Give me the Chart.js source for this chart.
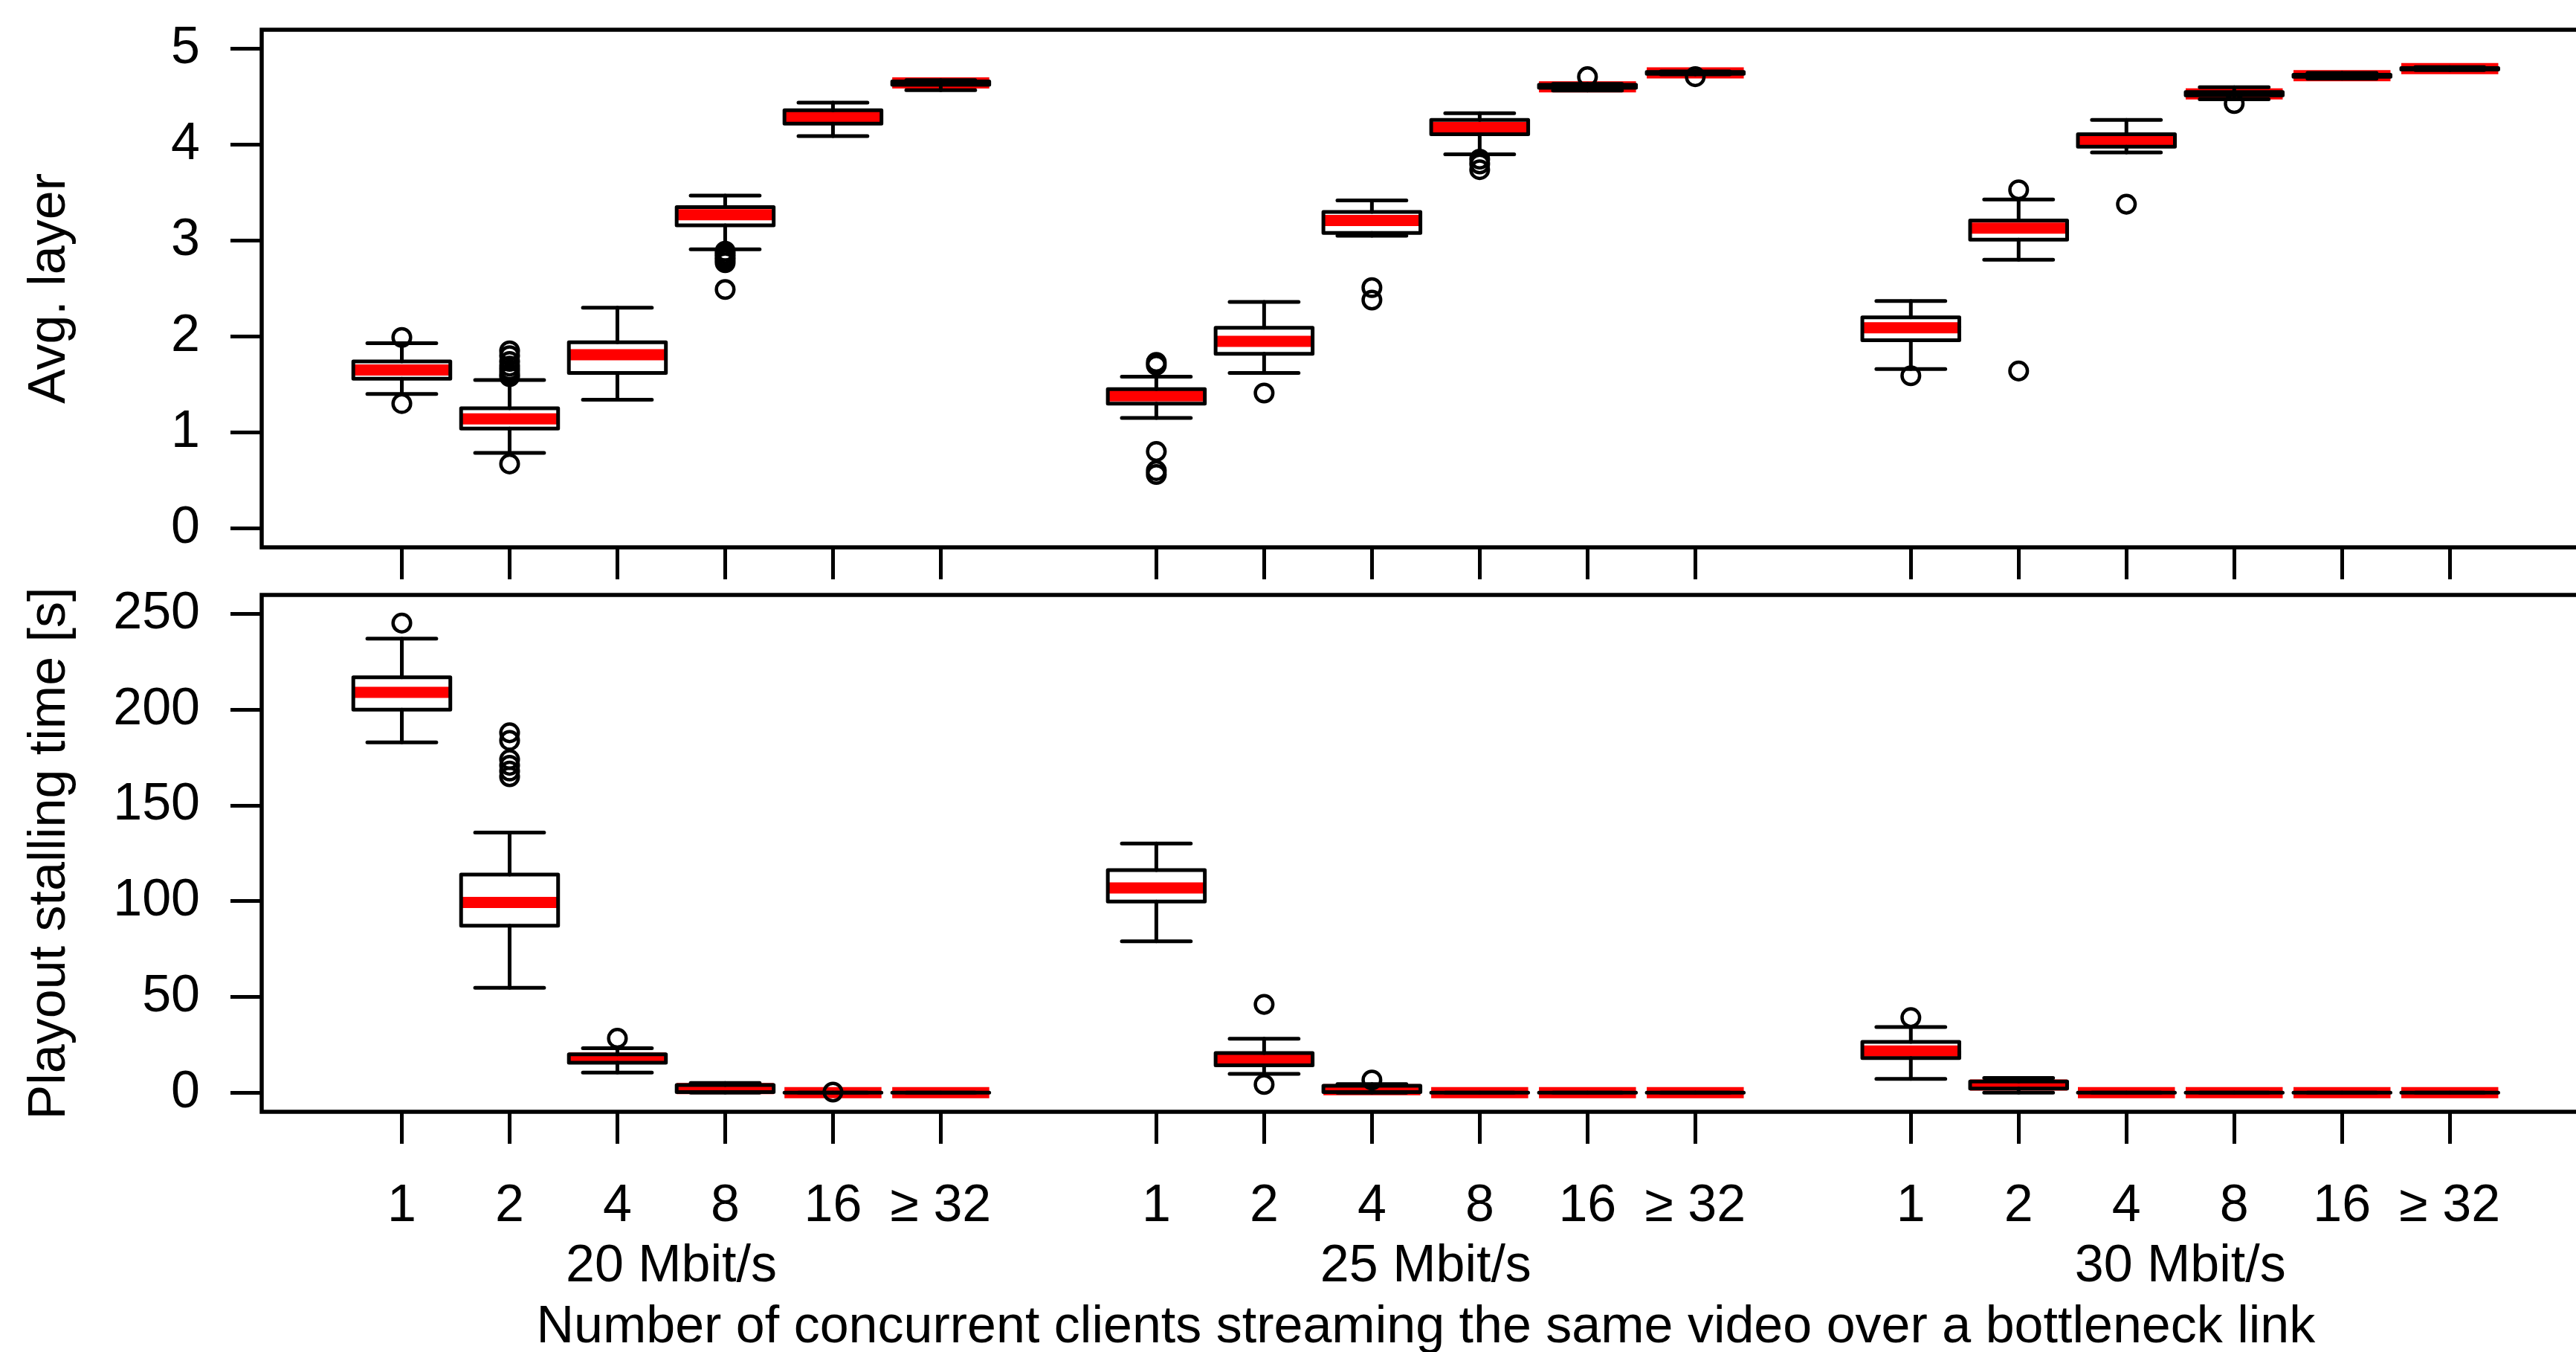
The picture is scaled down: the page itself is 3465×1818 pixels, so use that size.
<!DOCTYPE html>
<html><head><meta charset="utf-8">
<script src="https://cdn.jsdelivr.net/npm/chart.js@4/dist/chart.umd.min.js"></script>
<style>
html,body{margin:0;padding:0;background:#fff;width:3465px;height:1818px;overflow:hidden;position:relative}
canvas{position:absolute;left:0}
#c1{top:0}
#c2{top:760px}
</style></head><body>
<canvas id="c1" width="3500" height="780"></canvas>
<canvas id="c2" width="3500" height="1070"></canvas>
<script>
// ---------------- data ----------------
const categories = ['1', '2', '4', '8', '16', '\u2265 32'];
const groups = ['20 Mbit/s', '25 Mbit/s', '30 Mbit/s'];
const xTitle = 'Number of concurrent clients streaming the same video over a bottleneck link';
const layerTitle = 'Avg. layer';
const stallTitle = 'Playout stalling time [s]';
const layerTicks = [0, 1, 2, 3, 4, 5];
const stallTicks = [0, 50, 100, 150, 200, 250];

// Avg. layer boxes (20, 25, 30 Mbit/s; clients 1,2,4,8,16,>=32)
const layerLow    = [1.40, 0.785, 1.34, 2.91, 4.09, 4.57,   1.15, 1.62, 3.05, 3.90, 4.565, 4.735,  1.66, 2.80, 3.92, 4.475, 4.69, 4.78];
const layerQ1     = [1.56, 1.04, 1.62, 3.16, 4.22, 4.625,   1.30, 1.82, 3.08, 4.11, 4.595, 4.74,   1.96, 3.01, 3.98, 4.515, 4.71, 4.785];
const layerMedian = [1.65, 1.14, 1.81, 3.27, 4.29, 4.645,   1.38, 1.95, 3.21, 4.18, 4.605, 4.75,   2.09, 3.13, 4.05, 4.53, 4.72, 4.795];
const layerQ3     = [1.74, 1.25, 1.94, 3.35, 4.36, 4.66,    1.45, 2.09, 3.30, 4.26, 4.625, 4.76,   2.20, 3.21, 4.11, 4.55, 4.73, 4.80];
const layerHigh   = [1.93, 1.545, 2.30, 3.47, 4.44, 4.675,  1.58, 2.36, 3.42, 4.33, 4.635, 4.765,  2.37, 3.43, 4.26, 4.60, 4.75, 4.81];
const layerOutliers = [
  [1.99, 1.30], [1.85, 1.80, 1.74, 1.69, 1.65, 1.61, 1.58, 0.67], [], [2.89, 2.86, 2.83, 2.80, 2.77, 2.49], [], [],
  [1.73, 1.70, 0.80, 0.60, 0.56], [1.41], [2.51, 2.38], [3.85, 3.80, 3.74], [4.71], [4.71],
  [1.59], [3.53, 1.64], [3.38], [4.43], [], []
];

// Playout stalling time boxes
const stallLow    = [183.0, 54.8, 10.5, 0, 0, 0,    79.1, 9.8, 0, 0, 0, 0,    7.2, 0, 0, 0, 0, 0];
const stallQ1     = [200.1, 87.2, 15.6, 0.3, 0, 0,  99.8, 14.3, 0.3, 0, 0, 0,  18.1, 2.1, 0, 0, 0, 0];
const stallMedian = [209.1, 99.4, 18.1, 2.1, 0, 0,  106.9, 17.5, 1.6, 0, 0, 0, 21.8, 4.0, 0, 0, 0, 0];
const stallQ3     = [217.0, 113.9, 20.0, 4.0, 0, 0, 116.3, 20.7, 3.6, 0, 0, 0, 26.5, 5.8, 0, 0, 0, 0];
const stallHigh   = [237.2, 135.9, 23.2, 5.1, 0, 0, 130.1, 28.2, 4.5, 0, 0, 0, 34.3, 7.7, 0, 0, 0, 0];
const stallOutliers = [
  [245.3], [188, 184, 174, 171, 168, 165], [28.4], [], [0.3], [],
  [], [46.1, 4.3], [6.6], [], [], [],
  [39.2], [], [], [], [], []
];

// ---------------- layout helpers ----------------
const BOX_HALF = 0.45, STAPLE_HALF = 0.32;
const nCat = categories.length;
const xPos = i => Math.floor(i / nCat) * (nCat + 1) + (i % nCat) + 1;
const tickPositions = Array.from({length: groups.length * nCat}, (_, i) => xPos(i));
const groupCenters = groups.map((_, g) => g * (nCat + 1) + (nCat + 1) / 2);
const X_MIN = -0.3, X_MAX = groups.length * (nCat + 1) + 0.3;

Chart.defaults.font.family = "'Liberation Sans', Arial, Helvetica, sans-serif";
Chart.defaults.font.size = 70;
Chart.defaults.color = '#000';

function boxDatasets(low, q1, med, q3, high, outliers) {
  const median = [], box = [], whisk = [], staple = [], out = [];
  low.forEach((_, i) => {
    const x = xPos(i);
    const gap = {x: x, y: null};
    median.push({x: x - BOX_HALF, y: med[i]}, {x: x + BOX_HALF, y: med[i]}, gap);
    box.push({x: x - BOX_HALF, y: q1[i]}, {x: x + BOX_HALF, y: q1[i]}, {x: x + BOX_HALF, y: q3[i]},
             {x: x - BOX_HALF, y: q3[i]}, {x: x - BOX_HALF, y: q1[i]}, gap);
    whisk.push({x: x, y: q3[i]}, {x: x, y: high[i]}, gap, {x: x, y: q1[i]}, {x: x, y: low[i]}, gap);
    staple.push({x: x - STAPLE_HALF, y: high[i]}, {x: x + STAPLE_HALF, y: high[i]}, gap,
                {x: x - STAPLE_HALF, y: low[i]}, {x: x + STAPLE_HALF, y: low[i]}, gap);
    outliers[i].forEach(v => out.push({x: x, y: v}));
  });
  const line = {showLine: true, spanGaps: false, pointRadius: 0, tension: 0, borderColor: '#000', fill: false};
  return [
    Object.assign({}, line, {label: 'median', data: median, borderColor: '#ff0000', borderWidth: 15, borderCapStyle: 'butt', order: 5}),
    Object.assign({}, line, {label: 'box', data: box, borderWidth: 5, borderCapStyle: 'round', borderJoinStyle: 'round', order: 4}),
    Object.assign({}, line, {label: 'whisker', data: whisk, borderWidth: 5, borderCapStyle: 'round', order: 3}),
    Object.assign({}, line, {label: 'staple', data: staple, borderWidth: 5, borderCapStyle: 'round', order: 2}),
    {label: 'outliers', data: out, showLine: false, pointStyle: 'circle', pointRadius: 11.8, pointBorderWidth: 4.5,
     pointBorderColor: '#000', pointBackgroundColor: 'rgba(0,0,0,0)', order: 1}
  ];
}

const framePlugin = {
  id: 'frame',
  afterDatasetsDraw(chart) {
    const {ctx, chartArea: a} = chart;
    ctx.save();
    ctx.strokeStyle = '#000';
    ctx.lineWidth = 5.5;
    ctx.strokeRect(a.left, a.top, a.right - a.left, a.bottom - a.top);
    ctx.restore();
  }
};

const tickGrid = len => ({display: true, drawOnChartArea: false, drawTicks: true, tickLength: len, color: '#000', lineWidth: 5});

function yScale(min, max, ticks, title) {
  return {
    type: 'linear', position: 'left', min: min, max: max,
    afterBuildTicks: s => { s.ticks = ticks.map(v => ({value: v})); },
    afterFit: s => { s.width = 352; s.paddingTop = 0; s.paddingBottom = 0; },
    ticks: {padding: 41, font: {size: 70, lineHeight: 1}, callback: v => String(v)},
    grid: tickGrid(42),
    border: {display: false},
    title: {display: true, text: title, font: {size: 70}, padding: {top: 26, bottom: 0}}
  };
}

const common = {
  type: 'scatter',
  plugins: [framePlugin],
};
const baseOptions = {
  responsive: false, animation: false, devicePixelRatio: 1, events: [],
  plugins: {legend: {display: false}, tooltip: {enabled: false}},
  layout: {padding: {top: 40, left: 0, right: 15, bottom: 0}}
};

// ---------------- top panel ----------------
new Chart(document.getElementById('c1'), Object.assign({}, common, {
  data: {datasets: boxDatasets(layerLow, layerQ1, layerMedian, layerQ3, layerHigh, layerOutliers)},
  options: Object.assign({}, baseOptions, {
    scales: {
      x: {
        type: 'linear', position: 'bottom', min: X_MIN, max: X_MAX,
        afterBuildTicks: s => { s.ticks = tickPositions.map(v => ({value: v})); },
        afterFit: s => { s.height = 44; s.paddingLeft = 0; s.paddingRight = 0; },
        ticks: {display: false},
        grid: tickGrid(43),
        border: {display: false}
      },
      y: yScale(-0.2, 5.2, layerTicks, layerTitle)
    }
  })
}));

// ---------------- bottom panel ----------------
new Chart(document.getElementById('c2'), Object.assign({}, common, {
  data: {datasets: boxDatasets(stallLow, stallQ1, stallMedian, stallQ3, stallHigh, stallOutliers)},
  options: Object.assign({}, baseOptions, {
    scales: {
      x: {
        type: 'linear', position: 'bottom', weight: 0, min: X_MIN, max: X_MAX,
        afterBuildTicks: s => { s.ticks = tickPositions.map(v => ({value: v})); },
        afterFit: s => { s.height = 160; s.paddingLeft = 0; s.paddingRight = 0; },
        ticks: {padding: 43, autoSkip: false, maxRotation: 0, minRotation: 0,
                callback: (v, i) => categories[i % nCat]},
        grid: tickGrid(43),
        border: {display: false}
      },
      xg: {
        type: 'linear', position: 'bottom', weight: 1, min: X_MIN, max: X_MAX,
        afterBuildTicks: s => { s.ticks = groupCenters.map(v => ({value: v})); },
        afterFit: s => { s.height = 175; s.paddingLeft = 0; s.paddingRight = 0; },
        ticks: {padding: 7, autoSkip: false, maxRotation: 0, minRotation: 0,
                callback: (v, i) => groups[i]},
        grid: {display: false, drawTicks: false, tickLength: 0},
        border: {display: false},
        title: {display: true, text: xTitle, font: {size: 70}, padding: {top: 0, bottom: 2}}
      },
      y: yScale(-10, 260, stallTicks, stallTitle)
    }
  })
}));
</script>
</body></html>
